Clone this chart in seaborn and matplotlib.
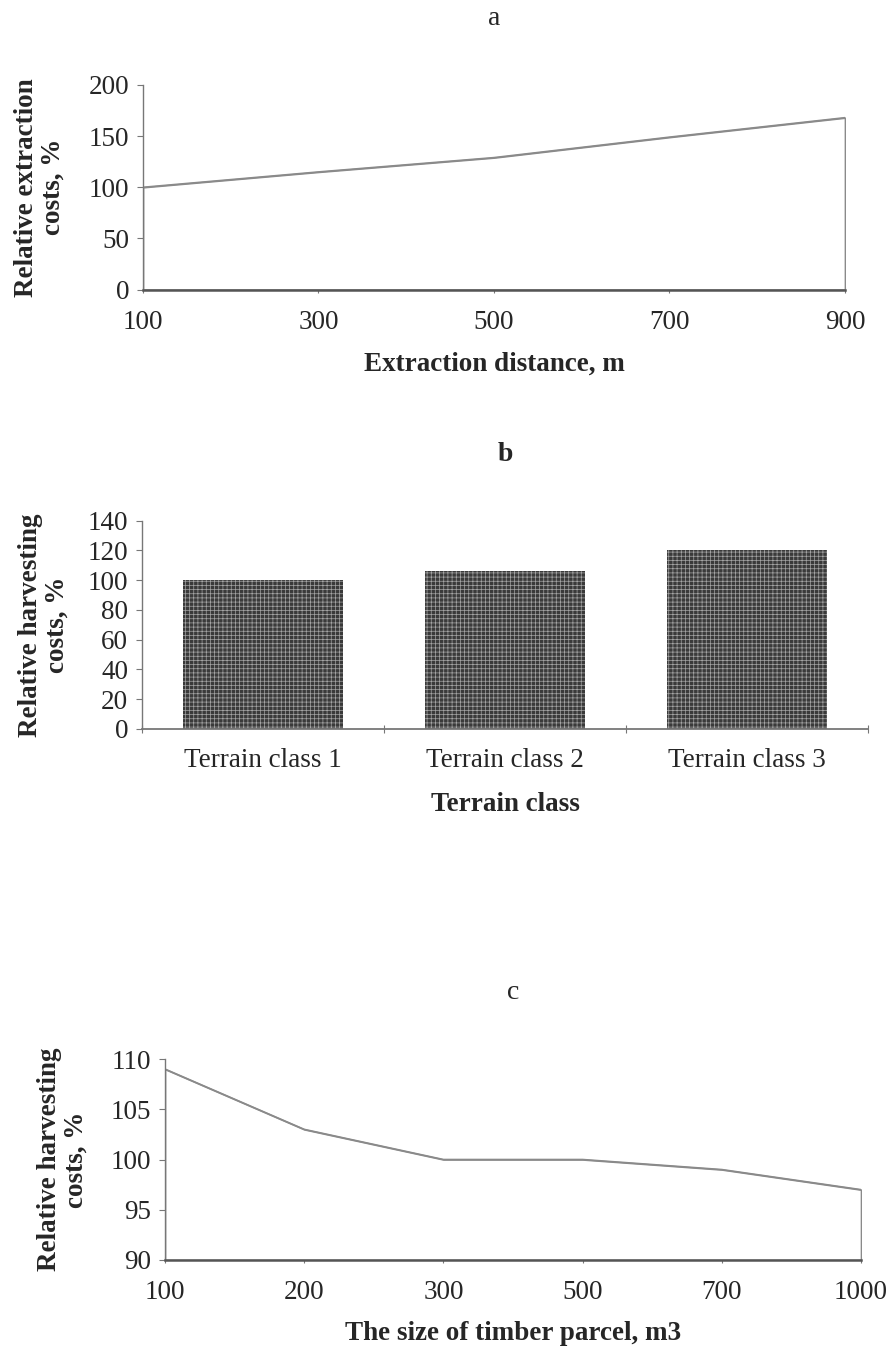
import matplotlib

matplotlib.use('Agg')
import matplotlib.pyplot as plt
import seaborn as sns
import numpy as np

# panel a
distance = [100, 300, 500, 700, 900]
extraction_cost = [100, 115, 129, 149, 168]

# panel b
terrain = ['Terrain class 1', 'Terrain class 2', 'Terrain class 3']
terrain_cost = [100, 106, 120]

# panel c
parcel_size = ['100', '200', '300', '500', '700', '1000']
parcel_cost = [109, 103, 100, 100, 99, 97]

sns.set_style('ticks')
plt.rcParams['font.family'] = ['Liberation Serif', 'DejaVu Serif']
plt.rcParams['hatch.linewidth'] = 0.5

LINE = '#8a8a8a'
AXIS = '#555555'
TICK_FS = 19.5
LAB_FS = 19.5


def _style(ax):
    sns.despine(ax=ax)
    ax.spines['left'].set_color('#777777')
    ax.spines['left'].set_linewidth(1.0)
    ax.spines['bottom'].set_color(AXIS)
    ax.spines['bottom'].set_linewidth(1.8)
    ax.tick_params(axis='y', direction='out', length=4, width=0.8, color='#777777',
                   pad=6, labelsize=TICK_FS)
    ax.tick_params(axis='x', direction='inout', length=5, width=0.8, color='#777777',
                   pad=12, labelsize=TICK_FS)
    ax.grid(False)


fig = plt.figure(figsize=(8.87, 13.46), dpi=100)

# ---- a
ax = fig.add_axes([0.1612, 0.7848, 0.7914, 0.1521])
ax.fill_between(distance, extraction_cost, 0, facecolor='white', edgecolor=LINE, lw=1.2)
sns.lineplot(x=distance, y=extraction_cost, color=LINE, lw=1.2, ax=ax)
ax.set_xlim(100, 900)
ax.set_ylim(0, 200)
ax.set_xticks(distance)
ax.set_yticks([0, 50, 100, 150, 200])
_style(ax)
ax.set_title('a', fontsize=20, pad=43)
ax.set_xlabel('Extraction distance, m', fontsize=LAB_FS, fontweight='bold')
ax.set_ylabel('Relative extraction\ncosts, %', fontsize=LAB_FS, fontweight='bold', linespacing=1.1)
ax.xaxis.set_label_coords(0.5, -0.304)
ax.yaxis.set_label_coords(-0.11, 0.5)

# ---- b
ax = fig.add_axes([0.1601, 0.4584, 0.8185, 0.1548])
sns.barplot(x=terrain, y=terrain_cost, color='#3a3a3a', saturation=1, width=0.665, ax=ax)
for p in ax.patches:
    p.set_hatch('++++')
    p.set_edgecolor('#a5a5a5')
    p.set_linewidth(0)
ax.set_xlim(-0.5, len(terrain) - 0.5)
ax.set_ylim(0, 140)
ax.set_yticks(np.arange(0, 141, 20))
_style(ax)
ax.spines['bottom'].set_linewidth(1.3)
ax.spines['bottom'].set_color('#777777')
ax.tick_params(axis='x', which='major', length=0, pad=14)
ax.set_xticks(np.arange(len(terrain) + 1) - 0.5, minor=True)
ax.tick_params(axis='x', which='minor', direction='inout', length=6, width=0.8, color='#777777')
ax.set_title('b', fontsize=20, fontweight='bold', pad=43)
ax.set_xlabel('Terrain class', fontsize=LAB_FS, fontweight='bold')
ax.set_ylabel('Relative harvesting\ncosts, %', fontsize=LAB_FS, fontweight='bold', linespacing=1.1)
ax.xaxis.set_label_coords(0.5, -0.303)
ax.yaxis.set_label_coords(-0.10, 0.5)

# ---- c
ax = fig.add_axes([0.186, 0.0639, 0.7847, 0.1493])
pos = np.arange(len(parcel_size))
ax.fill_between(pos, parcel_cost, 90, facecolor='white', edgecolor=LINE, lw=1.2)
sns.lineplot(x=pos, y=parcel_cost, color=LINE, lw=1.2, ax=ax)
ax.set_xlim(0, len(parcel_size) - 1)
ax.set_ylim(90, 110)
ax.set_xticks(pos)
ax.set_xticklabels(parcel_size)
ax.set_yticks([90, 95, 100, 105, 110])
_style(ax)
ax.set_title('c', fontsize=20, pad=43)
ax.set_xlabel('The size of timber parcel, m3', fontsize=LAB_FS, fontweight='bold')
ax.set_ylabel('Relative harvesting\ncosts, %', fontsize=LAB_FS, fontweight='bold', linespacing=1.1)
ax.xaxis.set_label_coords(0.5, -0.303)
ax.yaxis.set_label_coords(-0.109, 0.5)

plt.savefig('out.png', dpi=100)
plt.close()
